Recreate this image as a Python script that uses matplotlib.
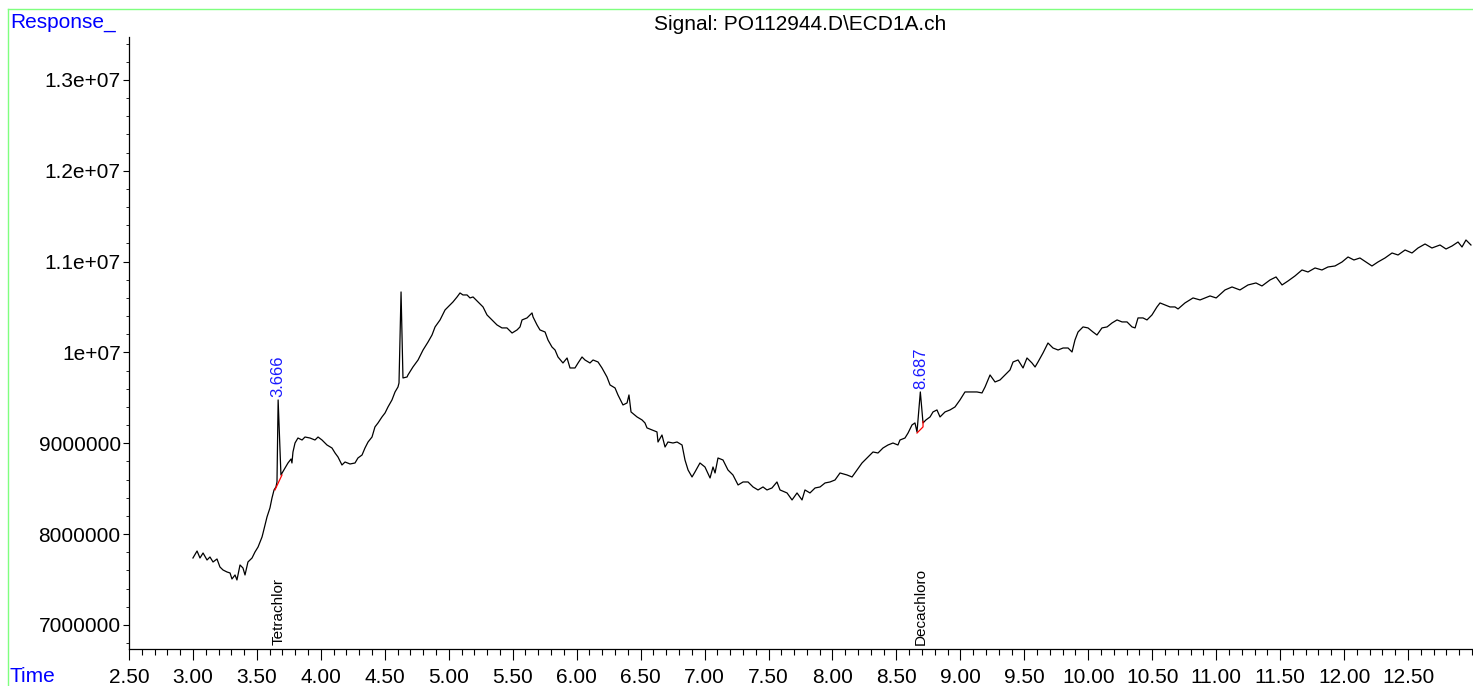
import matplotlib
matplotlib.use('Agg')
import matplotlib.pyplot as plt
from matplotlib.lines import Line2D
from matplotlib.ticker import MultipleLocator, FixedLocator
import matplotlib.transforms as mtransforms

plt.rcParams['font.family'] = ['Liberation Sans', 'DejaVu Sans']

# chromatogram trace, time in min, response in millions
time = [
    3.000, 3.032, 3.055, 3.079, 3.110, 3.133, 3.157, 3.188, 3.211, 3.235,
    3.266, 3.290, 3.305, 3.329, 3.344, 3.368, 3.391, 3.407, 3.430, 3.462,
    3.485, 3.509, 3.540, 3.548, 3.579, 3.602, 3.618, 3.634, 3.649, 3.657,
    3.666, 3.688, 3.720, 3.743, 3.767, 3.774, 3.782, 3.798, 3.821, 3.853,
    3.876, 3.915, 3.954, 3.978, 4.009, 4.048, 4.087, 4.111, 4.134, 4.165,
    4.189, 4.228, 4.267, 4.290, 4.322, 4.345, 4.369, 4.400, 4.423, 4.447,
    4.478, 4.502, 4.525, 4.556, 4.580, 4.603, 4.611, 4.627, 4.642, 4.674,
    4.681, 4.720, 4.760, 4.799, 4.838, 4.869, 4.893, 4.932, 4.971, 5.010,
    5.033, 5.065, 5.088, 5.111, 5.143, 5.166, 5.190, 5.229, 5.268, 5.299,
    5.338, 5.377, 5.416, 5.455, 5.495, 5.534, 5.557, 5.573, 5.612, 5.651,
    5.659, 5.690, 5.713, 5.753, 5.776, 5.807, 5.831, 5.854, 5.893, 5.925,
    5.948, 5.987, 6.011, 6.042, 6.065, 6.104, 6.128, 6.167, 6.198, 6.237,
    6.261, 6.300, 6.323, 6.362, 6.394, 6.409, 6.425, 6.472, 6.511, 6.534,
    6.550, 6.589, 6.628, 6.636, 6.667, 6.691, 6.714, 6.753, 6.785, 6.824,
    6.847, 6.871, 6.902, 6.925, 6.964, 7.003, 7.043, 7.066, 7.082, 7.105,
    7.144, 7.183, 7.222, 7.262, 7.301, 7.340, 7.379, 7.418, 7.457, 7.488,
    7.527, 7.566, 7.590, 7.645, 7.684, 7.723, 7.762, 7.785, 7.824, 7.864,
    7.903, 7.942, 7.981, 8.020, 8.059, 8.114, 8.153, 8.192, 8.231, 8.270,
    8.317, 8.356, 8.395, 8.434, 8.473, 8.512, 8.528, 8.567, 8.591, 8.622,
    8.645, 8.661, 8.687, 8.708, 8.731, 8.763, 8.786, 8.817, 8.841, 8.880,
    8.919, 8.958, 8.997, 9.036, 9.075, 9.130, 9.169, 9.193, 9.232, 9.271,
    9.310, 9.349, 9.388, 9.412, 9.451, 9.490, 9.521, 9.560, 9.584, 9.607,
    9.646, 9.685, 9.724, 9.764, 9.803, 9.842, 9.873, 9.896, 9.920, 9.959,
    9.998, 10.037, 10.068, 10.107, 10.147, 10.186, 10.225, 10.264, 10.303, 10.342,
    10.366, 10.389, 10.428, 10.459, 10.498, 10.537, 10.561, 10.600, 10.639, 10.678,
    10.702, 10.756, 10.819, 10.874, 10.952, 11.000, 11.069, 11.124, 11.186, 11.249,
    11.311, 11.358, 11.421, 11.468, 11.515, 11.562, 11.616, 11.671, 11.718, 11.773,
    11.827, 11.874, 11.929, 11.984, 12.031, 12.077, 12.124, 12.171, 12.218, 12.265,
    12.320, 12.375, 12.422, 12.477, 12.531, 12.578, 12.633, 12.687, 12.750, 12.797,
    12.844, 12.891, 12.922, 12.953, 12.992,
]
response = [
    7.737, 7.814, 7.737, 7.792, 7.715, 7.748, 7.693, 7.726, 7.638, 7.605,
    7.583, 7.572, 7.506, 7.550, 7.495, 7.660, 7.627, 7.550, 7.693, 7.737,
    7.803, 7.858, 7.968, 8.012, 8.189, 8.288, 8.398, 8.486, 8.519, 8.574,
    9.477, 8.651, 8.728, 8.783, 8.827, 8.783, 8.904, 9.003, 9.058, 9.036,
    9.069, 9.058, 9.036, 9.069, 9.036, 8.981, 8.948, 8.893, 8.849, 8.761,
    8.794, 8.772, 8.783, 8.838, 8.871, 8.948, 9.014, 9.069, 9.180, 9.224,
    9.290, 9.334, 9.400, 9.477, 9.565, 9.620, 9.664, 10.666, 9.719, 9.730,
    9.752, 9.840, 9.917, 10.027, 10.115, 10.192, 10.281, 10.358, 10.468, 10.523,
    10.556, 10.611, 10.655, 10.633, 10.633, 10.600, 10.611, 10.556, 10.501, 10.413,
    10.358, 10.303, 10.270, 10.270, 10.214, 10.248, 10.281, 10.358, 10.380, 10.435,
    10.391, 10.303, 10.248, 10.225, 10.137, 10.060, 10.027, 9.950, 9.884, 9.939,
    9.829, 9.829, 9.884, 9.950, 9.917, 9.884, 9.917, 9.895, 9.829, 9.730,
    9.642, 9.609, 9.532, 9.422, 9.444, 9.532, 9.345, 9.290, 9.257, 9.224,
    9.169, 9.147, 9.125, 9.014, 9.091, 8.959, 9.014, 9.003, 9.014, 8.981,
    8.816, 8.706, 8.629, 8.684, 8.783, 8.739, 8.618, 8.739, 8.673, 8.838,
    8.816, 8.706, 8.651, 8.541, 8.574, 8.574, 8.519, 8.486, 8.519, 8.486,
    8.508, 8.574, 8.486, 8.453, 8.376, 8.453, 8.376, 8.486, 8.453, 8.508,
    8.519, 8.563, 8.574, 8.596, 8.673, 8.651, 8.629, 8.706, 8.783, 8.838,
    8.904, 8.893, 8.948, 8.981, 9.003, 8.981, 9.036, 9.058, 9.113, 9.202,
    9.224, 9.125, 9.565, 9.224, 9.257, 9.290, 9.345, 9.367, 9.290, 9.345,
    9.367, 9.400, 9.477, 9.565, 9.565, 9.565, 9.554, 9.620, 9.752, 9.675,
    9.697, 9.752, 9.807, 9.895, 9.917, 9.829, 9.939, 9.884, 9.840, 9.895,
    9.994, 10.104, 10.049, 10.027, 10.049, 10.049, 10.005, 10.137, 10.225, 10.281,
    10.270, 10.225, 10.192, 10.270, 10.281, 10.325, 10.358, 10.336, 10.336, 10.281,
    10.270, 10.380, 10.380, 10.358, 10.413, 10.501, 10.545, 10.523, 10.501, 10.501,
    10.479, 10.545, 10.600, 10.578, 10.622, 10.600, 10.688, 10.721, 10.688, 10.743,
    10.765, 10.732, 10.798, 10.831, 10.743, 10.787, 10.842, 10.908, 10.886, 10.930,
    10.908, 10.941, 10.952, 10.996, 11.051, 11.018, 11.040, 10.996, 10.952, 10.996,
    11.040, 11.095, 11.073, 11.128, 11.095, 11.150, 11.194, 11.150, 11.183, 11.139,
    11.172, 11.216, 11.161, 11.238, 11.183,
]

# integrated peaks
peak_times = [3.666, 8.687]
peak_tops = [9.477, 9.565]
peak_names = ['Tetrachlor', 'Decachloro']
base1_t = [3.641, 3.696]
base1_v = [8.486, 8.651]
base2_t = [8.661, 8.708, 8.708]
base2_v = [9.113, 9.180, 9.240]

x_ticks = [2.5 + 0.5 * i for i in range(21)]
y_ticks = [7e6, 8e6, 9e6, 1e7, 1.1e7, 1.2e7, 1.3e7]
y_tick_labels = ['7000000', '8000000', '9000000', '1e+07', '1.1e+07', '1.2e+07', '1.3e+07']

W, H = 1473, 686
fig = plt.figure(figsize=(W / 100, H / 100), dpi=100)
ax = fig.add_axes([129 / W, 1 - 649 / H, (W - 129) / W, (649 - 37) / H])

ax.plot(time, [v * 1e6 for v in response], color='black', lw=0.9)
ax.plot(base1_t, [v * 1e6 for v in base1_v], color='red', lw=0.9)
ax.plot(base2_t, [v * 1e6 for v in base2_v], color='red', lw=0.9)

for t, top in zip(peak_times, peak_tops):
    ax.annotate(f'{t:.3f}', (t, top * 1e6), xytext=(0, 2), textcoords='offset points',
                rotation=90, ha='center', va='bottom', color='#1a1aff', fontsize=12)

trans = mtransforms.blended_transform_factory(ax.transData, ax.transAxes)
for t, name in zip(peak_times, peak_names):
    ax.text(t, 0.006, name, transform=trans, rotation=90, ha='center', va='bottom',
            fontsize=11, color='black')

ax.set_xlim(2.5, 13.008)
ax.set_ylim(6.735e6, 13.473e6)

ax.spines['top'].set_visible(False)
ax.spines['right'].set_visible(False)
for s in ('left', 'bottom'):
    ax.spines[s].set_linewidth(0.9)

ax.xaxis.set_major_locator(FixedLocator(x_ticks))
ax.set_xticklabels([f'{t:.2f}' for t in x_ticks])
ax.xaxis.set_minor_locator(MultipleLocator(0.1))
ax.yaxis.set_major_locator(FixedLocator(y_ticks))
ax.set_yticklabels(y_tick_labels)
ax.yaxis.set_minor_locator(MultipleLocator(2e5))

ax.tick_params(axis='x', which='major', length=8, width=0.8, labelsize=15, pad=6)
ax.tick_params(axis='x', which='minor', length=4, width=0.8)
ax.tick_params(axis='y', which='major', length=4, width=0.8, labelsize=15, pad=2)
ax.tick_params(axis='y', which='minor', length=2, width=0.6)

fig.text(800 / W, 1 - 25 / H, 'Signal: PO112944.D\\ECD1A.ch', ha='center', va='center', fontsize=15)
fig.text(10 / W, 1 - 22 / H, 'Response_', ha='left', va='center', fontsize=15, color='#0000ff')
fig.text(10 / W, 1 - 677 / H, 'Time', ha='left', va='center', fontsize=15, color='#0000ff')

# green frame
fx, fy = 8 / W, 1 - 9 / H
fig.add_artist(Line2D([fx, fx], [0, fy], color='#7fff7f', lw=1, transform=fig.transFigure))
fig.add_artist(Line2D([fx, 1], [fy, fy], color='#7fff7f', lw=1, transform=fig.transFigure))

fig.savefig('out.png', dpi=100)
